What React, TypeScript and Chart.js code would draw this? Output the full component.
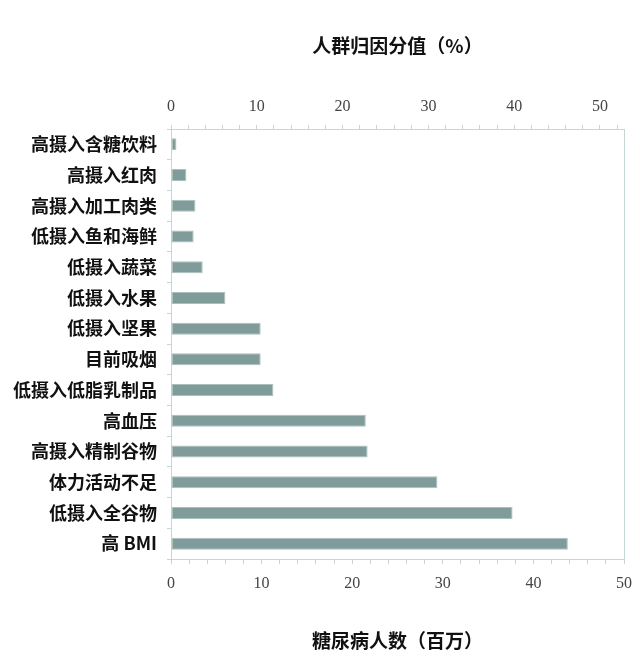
import { useEffect, useRef } from 'react';
import { Chart, registerables } from 'chart.js';

Chart.register(...registerables);

const factors = [
  '高摄入含糖饮料',
  '高摄入红肉',
  '高摄入加工肉类',
  '低摄入鱼和海鲜',
  '低摄入蔬菜',
  '低摄入水果',
  '低摄入坚果',
  '目前吸烟',
  '低摄入低脂乳制品',
  '高血压',
  '高摄入精制谷物',
  '体力活动不足',
  '低摄入全谷物',
  '高 BMI',
];

// 糖尿病人数（百万）
const casesMillions = [0.6, 1.7, 2.7, 2.5, 3.5, 6.0, 9.9, 9.9, 11.3, 21.5, 21.7, 29.4, 37.7, 43.8];

const bottomTitle = '糖尿病人数（百万）';
const topTitle = '人群归因分值（%）';

const AXIS_COLOR = '#c4d6d6';
const TICK_FONT = { family: '"Liberation Serif", "DejaVu Serif", serif', size: 16 };
const TITLE_FONT = { family: '"Noto Sans CJK SC", sans-serif', size: 19, weight: 'bold' as const };

const tickEvery10 = (v: string | number) => (Number(v) % 10 === 0 ? String(v) : '');

// keep the plot box edge where the reference has it, ignoring label overhang
const noSidePadding = (scale: any) => {
  scale.paddingLeft = 0;
  scale.paddingRight = 0;
};

const App = () => {
  const canvasRef = useRef<HTMLCanvasElement | null>(null);
  const chartRef = useRef<Chart | null>(null);

  useEffect(() => {
    if (chartRef.current) chartRef.current.destroy();
    const ctx = canvasRef.current?.getContext('2d');
    if (!ctx) return;

    chartRef.current = new Chart(ctx, {
      type: 'bar',
      data: {
        labels: factors,
        datasets: [
          {
            data: casesMillions,
            xAxisID: 'x',
            yAxisID: 'y',
            backgroundColor: '#7f9b9a',
            borderColor: '#aac0c0',
            borderWidth: 1,
            borderSkipped: false,
            barPercentage: 0.39,
            categoryPercentage: 1,
          },
        ],
      },
      options: {
        indexAxis: 'y',
        animation: false,
        responsive: true,
        maintainAspectRatio: false,
        layout: { padding: { top: 18, right: 8, bottom: 3, left: 0 } },
        plugins: { legend: { display: false }, tooltip: { enabled: false } },
        scales: {
          x: {
            type: 'linear',
            position: 'bottom',
            min: 0,
            max: 50,
            grid: { drawOnChartArea: false, color: AXIS_COLOR, tickLength: 5 },
            border: { color: AXIS_COLOR },
            ticks: {
              stepSize: 2,
              autoSkip: false,
              maxRotation: 0,
              padding: 10,
              color: '#444',
              font: TICK_FONT,
              callback: tickEvery10,
            },
            title: {
              display: true,
              text: bottomTitle,
              color: '#111',
              font: TITLE_FONT,
              padding: { top: 26, bottom: 8 },
            },
            afterFit: noSidePadding,
          },
          x2: {
            type: 'linear',
            position: 'top',
            min: 0,
            max: 52.8,
            grid: { drawOnChartArea: false, color: AXIS_COLOR, tickLength: 4 },
            border: { color: AXIS_COLOR },
            ticks: {
              stepSize: 2,
              includeBounds: false,
              autoSkip: false,
              maxRotation: 0,
              padding: 9,
              color: '#444',
              font: TICK_FONT,
              callback: tickEvery10,
            },
            title: {
              display: true,
              text: topTitle,
              color: '#111',
              font: TITLE_FONT,
              padding: { top: 8, bottom: 31 },
            },
            afterFit: noSidePadding,
          },
          y: {
            type: 'category',
            position: 'left',
            grid: { drawOnChartArea: false, color: AXIS_COLOR, tickLength: 4 },
            border: { color: AXIS_COLOR },
            ticks: {
              padding: 10,
              color: '#111',
              font: { family: '"Noto Sans CJK SC", sans-serif', size: 18, weight: 'bold' },
            },
            afterFit: (scale) => {
              scale.width = 163;
            },
          },
          y2: {
            type: 'category',
            position: 'right',
            grid: { display: false },
            border: { color: AXIS_COLOR },
            ticks: { display: false },
            afterFit: (scale) => {
              scale.width = 0;
            },
          },
        },
      },
    });

    return () => {
      if (chartRef.current) {
        chartRef.current.destroy();
        chartRef.current = null;
      }
    };
  }, []);

  return (
    <div style={{ width: 624, height: 655, position: 'relative' }}>
      <canvas ref={canvasRef} />
    </div>
  );
};

export default App;
